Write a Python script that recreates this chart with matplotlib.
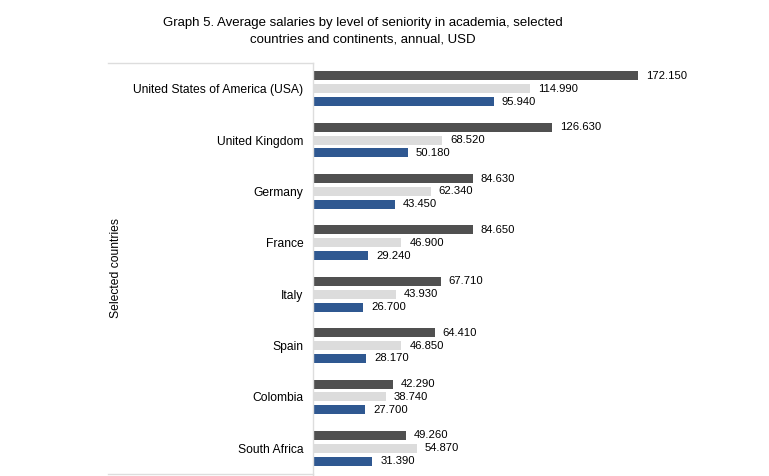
import matplotlib.pyplot as plt
from matplotlib.lines import Line2D
import numpy as np

plt.rcParams['font.family'] = ['Liberation Sans', 'DejaVu Sans']

countries = ['United States of America (USA)', 'United Kingdom', 'Germany', 'France',
             'Italy', 'Spain', 'Colombia', 'South Africa']
senior = [172150, 126630, 84630, 84650, 67710, 64410, 42290, 49260]
middle = [114990, 68520, 62340, 46900, 43930, 46850, 38740, 54870]
junior = [95940, 50180, 43450, 29240, 26700, 28170, 27700, 31390]

colors = ['#505050', '#dcdcdc', '#2f5891']

fig = plt.figure(figsize=(7.69, 4.76), dpi=100)
ax = fig.add_axes([313 / 769, 2 / 476, 415 / 769, 411 / 476])

y = np.arange(len(countries))
h = 0.175
offs = [-0.25, 0.0, 0.25]
for series, c, o in zip([senior, middle, junior], colors, offs):
    ax.barh(y + o, series, height=h, color=c)
    for yi, v in zip(y, series):
        ax.text(v + 4200, yi + o, f'{v / 1000:.3f}', va='center', ha='left', fontsize=8.1)

ax.set_ylim(len(countries) - 0.5, -0.5)
ax.set_xlim(0, 220000)
ax.set_yticks(y)
ax.set_yticklabels(countries, fontsize=8.7)
ax.tick_params(axis='y', length=0, pad=7)
ax.set_xticks([])
for s in ax.spines.values():
    s.set_visible(False)

# light frame around the category area
lc = '#dddddd'
fig.add_artist(Line2D([108 / 769, 313 / 769], [1 - 63 / 476] * 2, color=lc, lw=1))
fig.add_artist(Line2D([108 / 769, 313 / 769], [1 - 474 / 476] * 2, color=lc, lw=1))
fig.add_artist(Line2D([313 / 769] * 2, [1 - 63 / 476, 1 - 476 / 476], color=lc, lw=1))

fig.text(116 / 769, 1 - 268 / 476, 'Selected countries', rotation=90,
         ha='center', va='center', fontsize=8.7)
fig.text(363 / 769, 1 - 31 / 476,
         'Graph 5. Average salaries by level of seniority in academia, selected\ncountries and continents, annual, USD',
         ha='center', va='center', fontsize=9.5, linespacing=1.55)

fig.savefig('out.png', dpi=100)
